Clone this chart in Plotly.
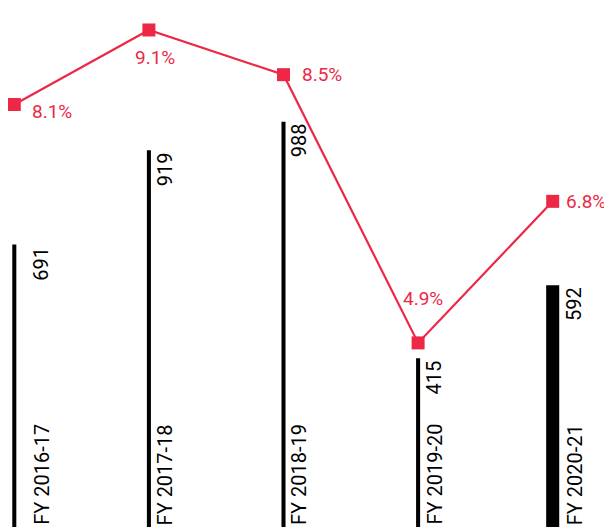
import plotly.graph_objects as go

categories = ["FY 2016-17", "FY 2017-18", "FY 2018-19", "FY 2019-20", "FY 2020-21"]
values = [691, 919, 988, 415, 592]
growth_pct = [8.1, 9.1, 8.5, 4.9, 6.8]

# styling (not data)
RED = "#EC2846"
bar_widths = [0.03, 0.03, 0.03, 0.03, 0.097]
value_label_dx = [27, 16, 15, 16, 22]
pct_label_dx = [38, 6, 38, 5, 33]
pct_label_dy = [-7, -28, 0, 44, 0]
FONT = "Roboto"

fig = go.Figure()
fig.add_trace(go.Bar(
    x=categories, y=values, width=bar_widths,
    marker=dict(color="black", line=dict(width=0)),
    hoverinfo="skip",
))
fig.add_trace(go.Scatter(
    x=categories, y=growth_pct, yaxis="y2", mode="lines+markers",
    line=dict(color=RED, width=2.2),
    marker=dict(symbol="square", size=13, color=RED),
    hoverinfo="skip",
))

annotations = []
for i, (c, v) in enumerate(zip(categories, values)):
    annotations.append(dict(
        x=c, y=v, xref="x", yref="y", text=str(v), showarrow=False,
        textangle=-90, xanchor="center", yanchor="top", xshift=value_label_dx[i],
        font=dict(family=FONT, size=20, color="black"),
    ))
    annotations.append(dict(
        x=c, y=0, xref="x", yref="paper", text=c, showarrow=False,
        textangle=-90, xanchor="center", yanchor="bottom", xshift=value_label_dx[i],
        font=dict(family=FONT, size=20, color="black"),
    ))
for i, (c, p) in enumerate(zip(categories, growth_pct)):
    annotations.append(dict(
        x=c, y=p, xref="x", yref="y2", text=f"{p}%", showarrow=False,
        xanchor="center", yanchor="middle", xshift=pct_label_dx[i], yshift=pct_label_dy[i],
        font=dict(family=FONT, size=19, color=RED),
    ))

# page body has an 8px default margin, so the figure is 604x519
fig.update_layout(
    width=604, height=519,
    margin=dict(l=0, r=0, t=0, b=0),
    paper_bgcolor="white", plot_bgcolor="white",
    showlegend=False,
    xaxis=dict(range=[-0.0468, 4.4406], visible=False),
    yaxis=dict(range=[6.54, 1263.5], visible=False),
    yaxis2=dict(range=[2.429, 9.395], overlaying="y", visible=False),
    annotations=annotations,
)

fig.write_html("out.html")
